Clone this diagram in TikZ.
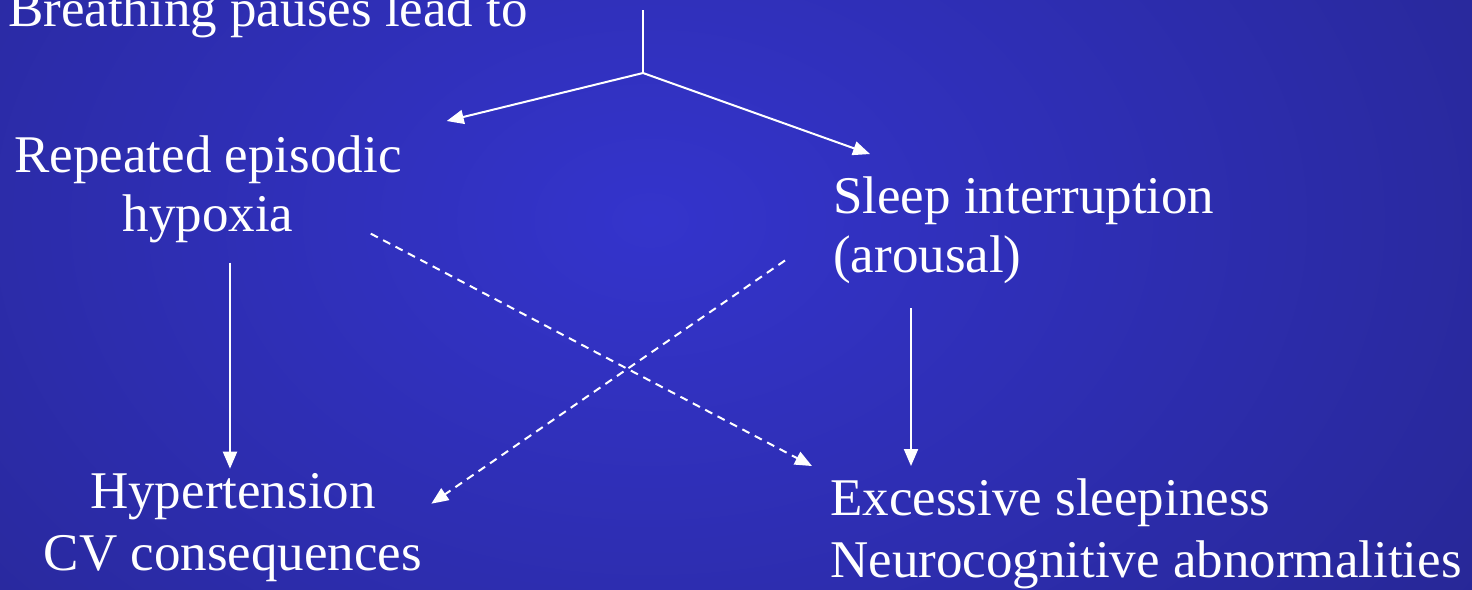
\documentclass[tikz,border=0pt]{standalone}
\usepackage{fontspec}
\setmainfont{Liberation Serif}
\usetikzlibrary{arrows.meta, positioning, calc}

\definecolor{slidemid}{RGB}{52,52,204}
\definecolor{slideedge}{RGB}{30,30,112}

\begin{document}
\begin{tikzpicture}[
    x=1pt, y=-1pt,
    label/.style={inner sep=0pt, text=white, font=\fontsize{53}{59}\selectfont},
    lowlabel/.style={label, font=\fontsize{53}{62}\selectfont},
    arr/.style={draw=white, line width=2pt, -{Triangle[length=17pt, width=14pt]}},
    dasharr/.style={arr, dash pattern=on 8pt off 6pt}
]
    % slide background
    \useasboundingbox (0,0) rectangle (1472,589);
    \begin{scope}
        \clip (0,0) rectangle (1472,589);
        \shade[inner color=slidemid, outer color=slideedge] (650,220) ellipse (1700 and 1200);
    \end{scope}

    % base of a two-line node = baseline of its last line
    \node[label, anchor=base west] (pause) at (8,26) {Breathing pauses lead to};
    \node[label, anchor=base, align=center] (hypox) at (208,231) {Repeated episodic\\hypoxia};
    \node[label, anchor=base west, align=left] (arousal) at (833,272) {Sleep interruption\\(arousal)};
    \node[lowlabel, anchor=base, align=center] (cv) at (233,570) {Hypertension\\CV consequences};
    \node[lowlabel, anchor=base west, align=left] (sleepy) at (830,577) {Excessive sleepiness\\Neurocognitive abnormalities};

    \coordinate (stem) at (643,10);
    \coordinate (fork) at (643,73);

    \draw[white, line width=2pt] (stem) -- (fork);
    \draw[arr] (fork) -- ([xshift=45pt, yshift=14pt]hypox.north east);
    \draw[arr] (fork) -- ([xshift=37pt, yshift=22pt]arousal.north west);

    \draw[arr] ([xshift=22pt, yshift=-20pt]hypox.south) -- ([xshift=-3pt, yshift=4pt]cv.north);
    \draw[arr] ([xshift=78pt, yshift=-25pt]arousal.south west) -- ([xshift=81pt, yshift=12pt]sleepy.north west);

    \draw[dasharr] ([xshift=-31pt, yshift=9pt]hypox.south east) -- ([xshift=-18pt, yshift=12pt]sleepy.north west);
    \draw[dasharr] ([xshift=-48pt, yshift=23pt]arousal.south west) -- ([xshift=9pt, yshift=-31pt]cv.north east);
\end{tikzpicture}
\end{document}
